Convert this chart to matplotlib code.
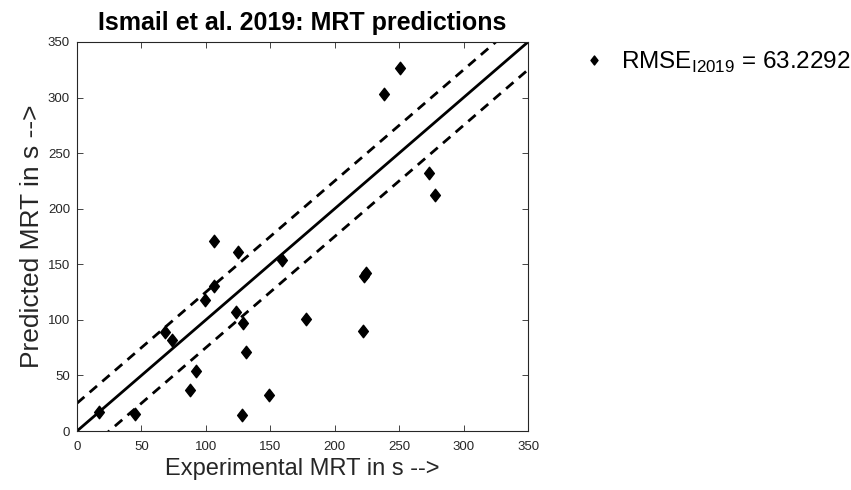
import numpy as np
import matplotlib
matplotlib.use("Agg")
import matplotlib.pyplot as plt
from matplotlib.path import Path

# Experimental vs. predicted mean residence time (s)
mrt_experimental = [17, 45, 106, 125, 159, 106, 99, 68, 74, 123, 129, 178,
                    131, 92, 88, 149, 128, 224, 223, 222, 251, 238, 273, 278]
mrt_predicted = [17, 15, 171, 161, 154, 130, 118, 89, 82, 107, 97, 101,
                 71, 54, 37, 32, 14, 142, 139, 90, 327, 303, 232, 212]
rmse_value = 63.2292
band_offset = 25
axis_limit = 350
tick_values = [0, 50, 100, 150, 200, 250, 300, 350]

plt.rcParams['font.family'] = ['Liberation Sans', 'DejaVu Sans']
plt.rcParams['mathtext.fontset'] = 'custom'
plt.rcParams['mathtext.rm'] = 'Liberation Sans'

fig = plt.figure(figsize=(8.51, 4.90), dpi=100)
ax = fig.add_axes([0.0905, 0.1204, 0.530, 0.794])

# Diamond marker a bit taller than wide
diamond = Path([(0, 1), (0.78, 0), (0, -1), (-0.78, 0), (0, 1)],
               [Path.MOVETO, Path.LINETO, Path.LINETO, Path.LINETO, Path.CLOSEPOLY])

line_x = np.array([0, axis_limit])
ax.plot(line_x, line_x, color='black', lw=2.0, zorder=2)
ax.plot(line_x, line_x + band_offset, color='black', lw=2.0, ls=(0, (3.5, 2.5)), zorder=2)
ax.plot(line_x, line_x - band_offset, color='black', lw=2.0, ls=(0, (3.5, 2.5)), zorder=2)

ax.plot(mrt_experimental, mrt_predicted, linestyle='none', marker=diamond,
        markersize=9, color='black', zorder=3, clip_on=False,
        label=r'RMSE$_{\mathregular{I2019}}$ = %.4f' % rmse_value)

ax.set_xlim(0, axis_limit)
ax.set_ylim(0, axis_limit)
ax.set_xticks(tick_values)
ax.set_yticks(tick_values)

edge = '#262626'
for s in ax.spines.values():
    s.set_color(edge)
    s.set_linewidth(0.8)
ax.tick_params(direction='in', length=4, width=0.6, colors=edge,
               labelsize=9.5, top=True, right=True)
ax.tick_params(axis='x', pad=7)
ax.tick_params(axis='y', pad=5)

ax.set_xlabel('Experimental MRT in s -->', fontsize=17, color=edge, labelpad=4)
ax.set_ylabel('Predicted MRT in s -->', fontsize=19, color=edge, labelpad=3)
ax.set_title('Ismail et al. 2019: MRT predictions', fontsize=18, fontweight='bold',
             pad=8.6)

fig_w, fig_h = 851, 490
leg = ax.legend(loc='center left', bbox_to_anchor=(570 / fig_w, 1 - 62 / fig_h),
                bbox_transform=fig.transFigure, frameon=False, borderpad=0,
                fontsize=17.5, handlelength=1.0, handletextpad=0.6,
                markerscale=0.72)

fig.savefig('out.png', dpi=100)
